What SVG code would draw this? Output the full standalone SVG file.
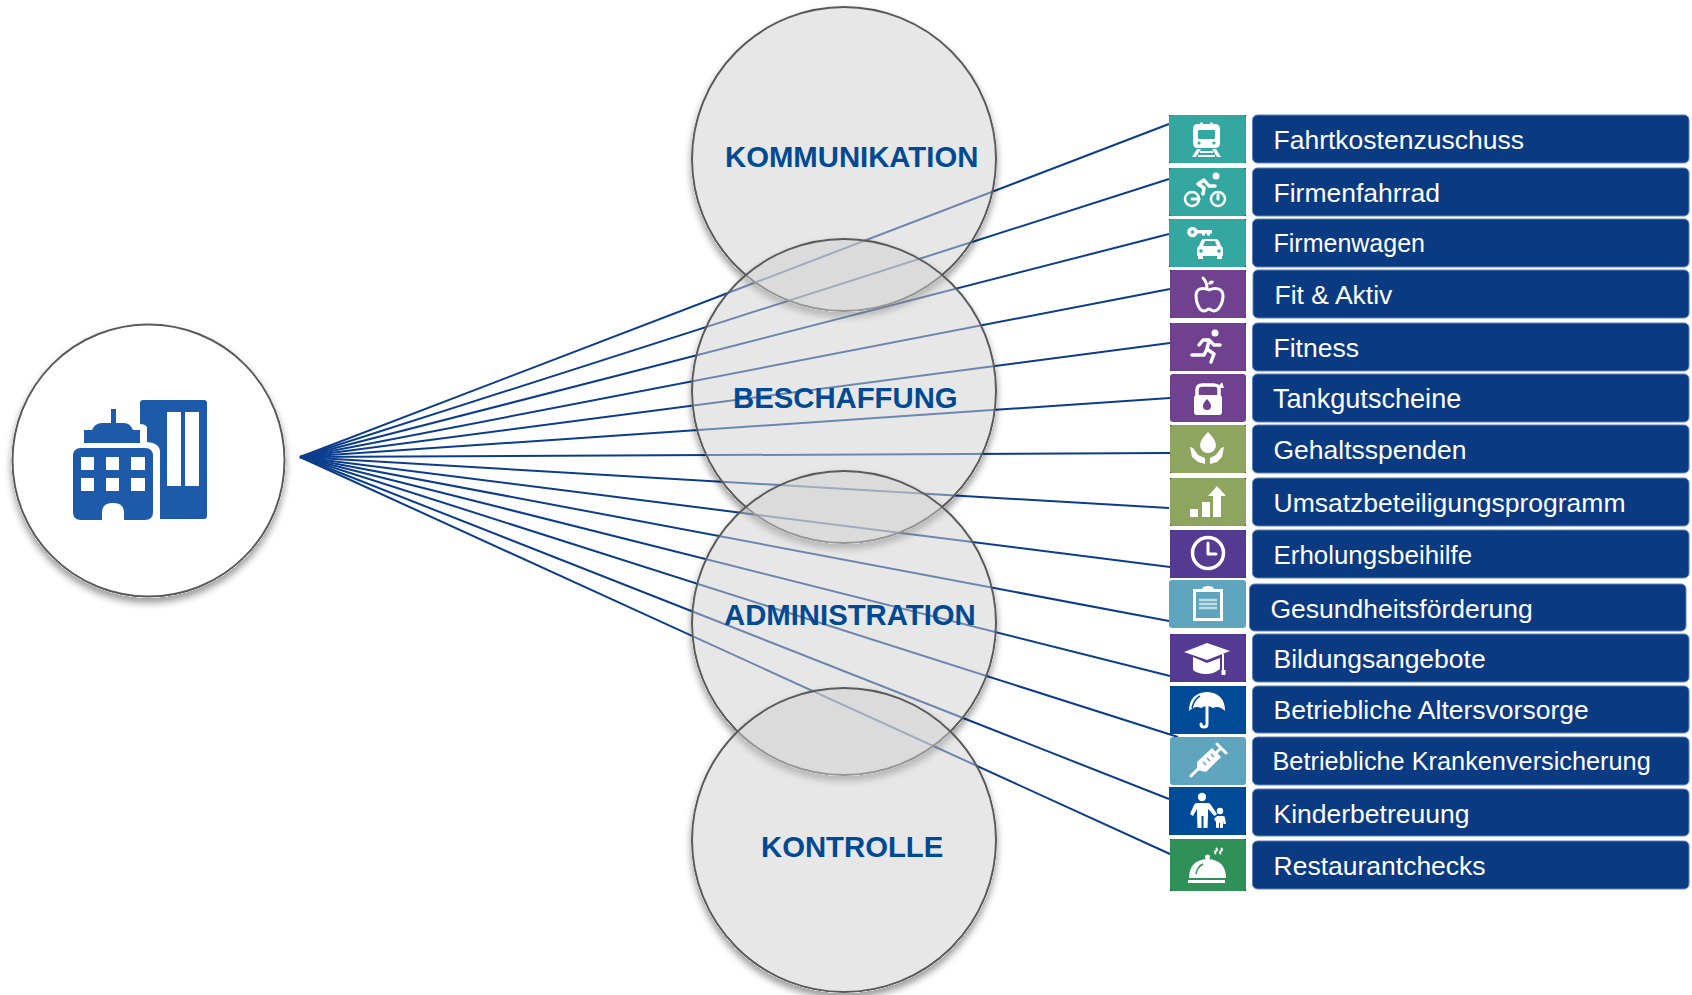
<svg xmlns="http://www.w3.org/2000/svg" width="1692" height="995" viewBox="0 0 1692 995">
<defs>
<filter id="sh" x="-15%" y="-15%" width="130%" height="130%" color-interpolation-filters="sRGB">
<feComponentTransfer in="SourceAlpha" result="solid"><feFuncA type="linear" slope="10"/></feComponentTransfer>
<feGaussianBlur in="solid" stdDeviation="3.5"/><feOffset dy="5" result="blur"/>
<feFlood flood-color="#000" flood-opacity="0.38"/><feComposite in2="blur" operator="in" result="s"/>
<feComposite in="s" in2="solid" operator="out" result="outer"/>
<feMerge><feMergeNode in="outer"/><feMergeNode in="SourceGraphic"/></feMerge>
</filter>
</defs>
<style>
.big{fill:#d0d0d0;fill-opacity:.5;stroke:#5a5a5a;stroke-width:2;filter:url(#sh)}
.hub{fill:#fff;stroke:#5a5a5a;stroke-width:2;filter:url(#sh)}
.ttl{font-family:"Liberation Sans",Arial,sans-serif;font-weight:700;font-size:29.3px;fill:#004a93}
.lab{font-family:"Liberation Sans",Arial,sans-serif;font-size:26.5px;fill:#fff}
.bar{fill:#0a3a82;stroke:#5f83b8;stroke-width:1}
.corner{fill:#222}
.w{fill:#fff}
.o{fill:none;stroke:#fff;stroke-width:3;stroke-linecap:round;stroke-linejoin:round}
.teal{fill:#33a7a0}.pur{fill:#70418f}.grn{fill:#8ea55f}.vio{fill:#553a92}.sky{fill:#5fa5bd}.blu{fill:#004b98}.dgr{fill:#2f9158}
.b{fill:#1d5aaa}
#connectors line{stroke:#0b3d8c;stroke-width:2}
</style>
<g id="connectors">
<line x1="300" y1="457" x2="1169" y2="124"/>
<line x1="300" y1="457" x2="1169" y2="179"/>
<line x1="300" y1="457" x2="1169" y2="234"/>
<line x1="300" y1="457" x2="1170" y2="289"/>
<line x1="300" y1="457" x2="1170" y2="343"/>
<line x1="300" y1="457" x2="1170" y2="398"/>
<line x1="300" y1="457" x2="1170" y2="453"/>
<line x1="300" y1="457" x2="1169" y2="508"/>
<line x1="300" y1="457" x2="1170" y2="567"/>
<line x1="300" y1="457" x2="1169" y2="621"/>
<line x1="300" y1="457" x2="1170" y2="676"/>
<line x1="300" y1="457" x2="1178" y2="737"/>
<line x1="300" y1="457" x2="1169" y2="799"/>
<line x1="300" y1="457" x2="1170" y2="854"/>
</g>
<g id="hub">
<circle class="hub" cx="148.5" cy="460.5" r="136"/>
<path class="b" d="M143 400H204q3 0 3 3V516q0 3-3 3H160V452q0-9-13-10V427q-2-3-7-3V403q0-3 3-3Z"/>
<rect class="w" x="167" y="412" width="14" height="74"/><rect class="w" x="185" y="412" width="14" height="74"/>
<path class="b" d="M81 448H145q8 0 8 8V512q0 8-8 8H124V513q0-10-10-10H112q-10 0-10 10V520H81q-8 0-8-8V456q0-8 8-8Z"/>
<path class="b" d="M84 443V430H92q3-7 10-7H111V409H116V423H124q6 0 9 7H140V443Z"/>
<g class="w"><rect x="81" y="457" width="13" height="13"/><rect x="106" y="457" width="13" height="13"/><rect x="131" y="457" width="14" height="13"/><rect x="81" y="478" width="13" height="13"/><rect x="106" y="478" width="13" height="13"/><rect x="131" y="478" width="14" height="13"/></g>
</g>
<g id="kommunikation"><circle class="big" cx="844" cy="159" r="152"/><text class="ttl" x="725" y="167">KOMMUNIKATION</text></g>
<g id="beschaffung"><circle class="big" cx="844" cy="391" r="152"/><text class="ttl" x="733" y="408">BESCHAFFUNG</text></g>
<g id="administration"><circle class="big" cx="844" cy="623" r="152"/><text class="ttl" x="724" y="625">ADMINISTRATION</text></g>
<g id="kontrolle"><circle class="big" cx="844" cy="840" r="152"/><text class="ttl" x="761" y="857">KONTROLLE</text></g>

<g id="row-fahrtkostenzuschuss">
<rect class="corner" x="1169" y="115" width="77" height="48"/><rect class="teal" x="1169" y="115" width="77" height="48" rx="2"/>
<path class="w" d="M1198 124h2l1-2h1l1 2h7l1-2h1l1 2h2q5 0 5 5v14q0 5-5 5h-17q-5 0-5-5v-14q0-5 5-5Z"/>
<rect class="teal" x="1198" y="130" width="17" height="9" rx="1"/>
<circle class="teal" cx="1199" cy="143" r="1.6"/><circle class="teal" cx="1214" cy="143" r="1.6"/>
<path class="w" d="M1197 149h4l-5 8h-4ZM1212 149h4l5 8h-4ZM1200 151h13v2h-13ZM1198 155h17v2h-17Z"/>
<rect class="bar" x="1252.500" y="115" width="436.500" height="48" rx="5"/><text class="lab" x="1273.500" y="149">Fahrtkostenzuschuss</text>
</g>
<g id="row-firmenfahrrad">
<rect class="corner" x="1169" y="168" width="77" height="48"/><rect class="teal" x="1169" y="168" width="77" height="48" rx="2"/>
<circle class="o" style="stroke-width:2.500" cx="1192" cy="199" r="7"/><circle class="o" style="stroke-width:2.500" cx="1218" cy="199" r="7"/><circle class="w" cx="1216" cy="176" r="3.500"/>
<path class="o" d="M1192 199h7M1218 199v-4"/>
<path class="o" style="stroke-width:3.500" d="M1203 194l1-6-6-4 6-4 5 6h6"/>
<rect class="bar" x="1252.500" y="168" width="436.500" height="48" rx="5"/><text class="lab" x="1273.500" y="202">Firmenfahrrad</text>
</g>
<g id="row-firmenwagen">
<rect class="corner" x="1169" y="219" width="77" height="48"/><rect class="teal" x="1169" y="219" width="77" height="48" rx="2"/>
<circle class="o" style="stroke-width:3.500" cx="1192.500" cy="232" r="3.500"/><path class="w" d="M1196 230h16v3.500h-2v2h-3v-2h-2v2h-3v-2h-6Z"/>
<path class="w" d="M1204 239h12q2 0 3 2l2 5q2 1 2 3v6q0 1-1 1v3h-5v-3h-14v3h-5v-3q-1 0-1-1v-6q0-2 2-3l2-5q1-2 3-2Z"/>
<path class="teal" d="M1205 241h10l2 5h-14Z"/><circle class="teal" cx="1201" cy="251" r="1.800"/><circle class="teal" cx="1219" cy="251" r="1.800"/>
<rect class="bar" x="1252.500" y="219" width="436.500" height="48" rx="5"/><text class="lab" x="1273.500" y="252" style="font-size:25px">Firmenwagen</text>
</g>
<g id="row-fit-aktiv">
<rect class="corner" x="1170" y="270" width="76" height="48"/><rect class="pur" x="1170" y="270" width="76" height="48" rx="2"/>
<path class="o" d="M1209 290c-6-3-13-2-13 6 0 8 4 15 8 15 3 0 3-2 5-2s2 2 5 2c4 0 9-7 9-15 0-8-8-9-14-6ZM1207 288q0-6-4-10"/>
<path class="w" d="M1208 284q1-5 6-3-1 5-6 3Z"/>
<rect class="bar" x="1253" y="270" width="436" height="48" rx="5"/><text class="lab" x="1274.500" y="304">Fit &amp; Aktiv</text>
</g>
<g id="row-fitness">
<rect class="corner" x="1170" y="323" width="76" height="48"/><rect class="pur" x="1170" y="323" width="76" height="48" rx="2"/>
<circle class="w" cx="1215" cy="333" r="3.500"/>
<path class="o" style="stroke-width:3.500" d="M1199 345l4-5h6l-2 9 7 5-3 8M1207 349l-3 6h-12M1209 340l5 5h6"/>
<rect class="bar" x="1252.500" y="323" width="436.500" height="48" rx="5"/><text class="lab" x="1273.500" y="357">Fitness</text>
</g>
<g id="row-tankgutscheine">
<rect class="pur" x="1170" y="374" width="76" height="48" rx="3"/>
<path class="w" d="M1197 395h22q3 0 3 3v14q0 3-3 3h-22q-3 0-3-3v-14q0-3 3-3Z"/>
<path class="o" style="stroke-width:3.500" d="M1197 396v-6q0-5 5-5h12q3 0 5 2v9"/><path class="w" d="M1217 388l5-6 2 6Z"/>
<path class="pur" d="M1207 399q4 4 4 7a4 4 0 0 1-8 0q0-3 4-7Z"/>
<rect class="bar" x="1252.500" y="374" width="436.500" height="48" rx="5"/><text class="lab" x="1273" y="408" style="font-size:27.1px">Tankgutscheine</text>
</g>
<g id="row-gehaltsspenden">
<rect class="corner" x="1170" y="425" width="76" height="48"/><rect class="grn" x="1170" y="425" width="76" height="48" rx="2"/>
<path class="w" d="M1208 432q8 8 8 13a8 8 0 0 1-16 0q0-5 8-13Z"/>
<path class="w" d="M1190 447l3 1 5 7 7 3v6l-7-2-6-5ZM1224 447l-3 1-5 7-6 3v6l7-2 5-5Z"/>
<rect class="bar" x="1252.500" y="425" width="436.500" height="48" rx="5"/><text class="lab" x="1273.500" y="459">Gehaltsspenden</text>
</g>
<g id="row-umsatzbeteiligungsprogramm">
<rect class="corner" x="1170" y="478" width="76" height="48"/><rect class="grn" x="1170" y="478" width="76" height="48" rx="2"/>
<path class="w" d="M1190 509h8v8h-8ZM1202 502h8v15h-8ZM1213 517v-21h-5l9-10 9 10h-5v21Z"/>
<rect class="bar" x="1252.500" y="478" width="436.500" height="48" rx="5"/><text class="lab" x="1273.500" y="512">Umsatzbeteiligungsprogramm</text>
</g>
<g id="row-erholungsbeihilfe">
<rect class="corner" x="1170" y="530" width="76" height="48"/><rect class="vio" x="1170" y="530" width="76" height="48" rx="2"/>
<circle cx="1208" cy="553" r="15.500" fill="none" stroke="#fff" stroke-width="3.500"/><path class="o" d="M1208 543v11h8"/>
<rect class="bar" x="1252.500" y="530" width="436.500" height="48" rx="5"/><text class="lab" x="1273.500" y="564" style="font-size:25.900px">Erholungsbeihilfe</text>
</g>
<g id="row-gesundheitsfoerderung">
<rect class="sky" x="1169" y="580" width="77" height="48" rx="3"/>
<path class="w" d="M1193 589h9q1-3 6-3t6 3h9v32h-30Z"/>
<rect class="sky" x="1196" y="592" width="24" height="26"/><path d="M1199 600h18M1199 604h18M1199 608h18" stroke="#bfdbe5" stroke-width="2.500"/>
<rect class="bar" x="1249.500" y="584" width="436.500" height="47" rx="5"/><text class="lab" x="1270.500" y="618">Gesundheitsförderung</text>
</g>
<g id="row-bildungsangebote">
<rect class="corner" x="1170" y="634" width="76" height="48"/><rect class="vio" x="1170" y="634" width="76" height="48" rx="2"/>
<path class="w" d="M1207 643l23 8-23 9-23-8ZM1193 657l14 6 13-5v11q-6 5-14 5t-13-4ZM1222 654h2v16h1.500v5h-4v-5h.5Z"/>
<rect class="bar" x="1252.500" y="634" width="436.500" height="48" rx="5"/><text class="lab" x="1273.500" y="668">Bildungsangebote</text>
</g>
<g id="row-altersvorsorge">
<rect class="corner" x="1170" y="686" width="76" height="48"/><rect class="blu" x="1170" y="686" width="76" height="48" rx="2"/>
<path class="w" d="M1207 692Q1225 693 1225 711Q1219 705 1213 708Q1207 704 1201 708Q1195 705 1189 711Q1189 693 1207 692Z"/>
<path class="o" d="M1207 706v18q0 3-3 3t-3-3"/><path d="M1192 708q2-9 8-12" fill="none" stroke="#004b98" stroke-width="1.500"/>
<rect class="bar" x="1252.500" y="686" width="436.500" height="47" rx="5"/><text class="lab" x="1273.500" y="719">Betriebliche Altersvorsorge</text>
</g>
<g id="row-krankenversicherung">
<rect class="sky" x="1170" y="737" width="76" height="48" rx="3"/>
<path class="o" d="M1191 776l7-7M1217 744l9 9M1221 748l-4 4"/>
<path class="w" d="M1197 762l15-14 9 9-15 15-9-2Z"/>
<path d="M1203 762l3 3M1207 758l3 3M1211 754l3 3" stroke="#5fa5bd" stroke-width="1.500"/>
<rect class="bar" x="1252.500" y="737" width="436.500" height="48" rx="5"/><text class="lab" x="1272.500" y="770" style="font-size:25.300px">Betriebliche Krankenversicherung</text>
</g>
<g id="row-kinderbetreuung">
<rect class="corner" x="1169" y="787" width="77" height="48"/><rect class="blu" x="1169" y="787" width="77" height="48" rx="2"/>
<circle class="w" cx="1202" cy="797" r="4.200"/><circle class="w" cx="1220" cy="811" r="3.200"/>
<path class="w" d="M1196 803h12q2 0 3 2l6 9-2.500 2-6.500-7v5l-.5 14h-4v-12h-2v12h-4l-.5-14v-5l-4 7-3-2 4-9q1-2 3-2Z"/>
<path class="w" d="M1217 816h6q2 0 2 2l1 6-2.500 0-.5-3v6l-.5 1v0h-2.500v-5h-1v5h-2.500l-.5-1v-5l-2-3Z"/>
<rect class="bar" x="1252.500" y="789" width="436.500" height="47" rx="5"/><text class="lab" x="1273.500" y="823">Kinderbetreuung</text>
</g>
<g id="row-restaurantchecks">
<rect class="corner" x="1170" y="839" width="76" height="52"/><rect class="dgr" x="1170" y="839" width="76" height="52" rx="2"/>
<path class="w" d="M1189 878q0-17 17-19-1-1-1-2a2.500 2.500 0 0 1 5 0q0 1-1 2 17 2 17 19ZM1188 880h37v3h-37Z"/>
<path d="M1196 874q1-7 7-10" fill="none" stroke="#2f9158" stroke-width="1.500"/>
<path d="M1216 848q2 2 0 3t0 3M1221 848q2 2 0 3t0 3" fill="none" stroke="#fff" stroke-width="2"/>
<rect class="bar" x="1252.500" y="841" width="436.500" height="48" rx="5"/><text class="lab" x="1273.500" y="875">Restaurantchecks</text>
</g>
</svg>
